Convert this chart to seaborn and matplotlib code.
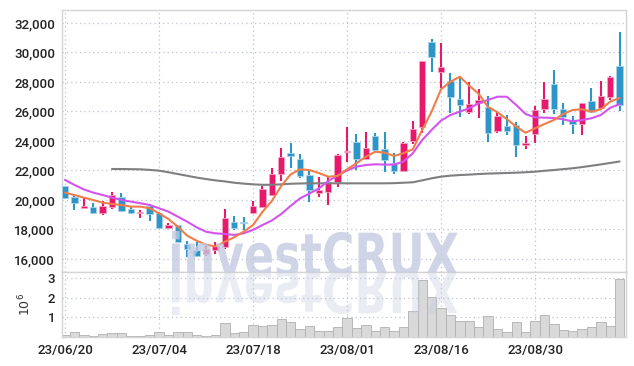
import numpy as np
import pandas as pd
import seaborn as sns
import matplotlib.pyplot as plt
from matplotlib.textpath import TextPath
from matplotlib.patches import PathPatch
from matplotlib.font_manager import FontProperties
from matplotlib.transforms import Affine2D

# daily prices (KRW)
opens = [20950, 20200, 19480, 19520, 19100, 19500, 20180, 19390, 19100, 19600,
         19140, 18120, 18280, 17000, 16610, 16320, 16620, 16790, 18490, 18530,
         19100, 19500, 20340, 21740, 23190, 22780, 21720, 20500, 20560, 21200,
         23250, 23930, 22800, 24340, 23490, 22530, 21990, 24020, 24970, 30690,
         28700, 28070, 26830, 25990, 26600, 26280, 24680, 25020, 25090, 23750,
         24470, 26170, 27860, 26170, 25360, 25130, 26710, 26260, 27000, 29080]
highs = [20980, 20350, 20130, 19780, 19950, 20520, 20450, 19560, 19300, 19700,
         19200, 18450, 18320, 17220, 17150, 17000, 17150, 19390, 18940, 18830,
         19930, 20970, 22190, 23500, 23880, 23120, 22030, 21580, 21580, 23100,
         24970, 24500, 24590, 24520, 24590, 23170, 23900, 25380, 29420, 30920,
         30620, 28590, 28360, 27980, 27500, 27050, 26050, 25760, 25310, 24360,
         26370, 27980, 28810, 26560, 25700, 26600, 27570, 28090, 28400, 31370]
lows = [20100, 19320, 19450, 19080, 18960, 19420, 19250, 19080, 18760, 18570,
        18100, 18010, 17150, 16160, 16160, 16220, 16360, 16700, 17970, 17970,
        19050, 19450, 20300, 21310, 22190, 21470, 19840, 20220, 19660, 20900,
        22600, 22050, 22750, 23270, 21920, 21770, 21990, 23800, 24550, 28660,
        27570, 25920, 25600, 25830, 25540, 23910, 24560, 24400, 22890, 23440,
        23840, 25880, 25830, 25080, 24450, 24400, 25880, 26150, 26780, 26050]
closes = [20150, 19820, 19600, 19100, 19600, 20340, 19270, 19100, 19210, 19030,
          18120, 18300, 17170, 16700, 16220, 16680, 16880, 18760, 18120, 18420,
          19600, 20720, 21740, 22890, 23000, 21650, 20700, 20680, 21240, 23050,
          23340, 22800, 23550, 23390, 22710, 21990, 23840, 24810, 29420, 29720,
          29000, 27000, 26460, 26490, 26750, 24560, 25700, 24680, 23730, 23880,
          26100, 26850, 26170, 25650, 25170, 26560, 25990, 27050, 28320, 26440]

# moving averages
ma5 = [20500, 20340, 20160, 20000, 19820, 19730, 19660, 19550, 19550, 19440,
       19100, 18710, 18190, 17580, 17240, 16970, 16850, 17170, 17470, 17850,
       18300, 19190, 19930, 20950, 21730, 22080, 22030, 21830, 21580, 21630,
       22080, 22490, 22930, 23270, 23210, 22980, 23170, 23440, 24750, 25990,
       27500, 28020, 28360, 27750, 27200, 26310, 25950, 25480, 24970, 24560,
       24860, 25150, 25420, 25830, 26100, 26150, 25990, 26150, 26670, 26920]
ma20 = [21360, 21020, 20720, 20500, 20340, 20160, 20000, 19890, 19780, 19660,
        19440, 19210, 18870, 18530, 18150, 17850, 17740, 17700, 17630, 17740,
        17970, 18300, 18610, 19050, 19600, 20110, 20440, 20780, 21290, 21660,
        22000, 22260, 22370, 22420, 22400, 22400, 22600, 23170, 24070, 24750,
        25380, 25760, 25990, 26220, 26550, 26780, 27000, 27000, 26440, 25830,
        25600, 25580, 25560, 25470, 25330, 25420, 25540, 25760, 26250, 26500]
ma60 = [np.nan, np.nan, np.nan, np.nan, np.nan, 22100, 22100, 22090, 22080, 22040,
        21990, 21880, 21760, 21640, 21520, 21420, 21330, 21260, 21170, 21110,
        21060, 21030, 21030, 21060, 21100, 21120, 21130, 21130, 21130, 21130,
        21130, 21130, 21130, 21130, 21130, 21140, 21170, 21200, 21330, 21470,
        21580, 21650, 21690, 21720, 21760, 21790, 21810, 21830, 21850, 21880,
        21920, 21980, 22030, 22090, 22150, 22230, 22320, 22410, 22510, 22610]

# volume, millions of shares
volume_m = [0.10, 0.23, 0.08, 0.07, 0.15, 0.20, 0.20, 0.04, 0.04, 0.08,
            0.23, 0.10, 0.23, 0.23, 0.10, 0.05, 0.10, 0.73, 0.20, 0.26,
            0.63, 0.55, 0.60, 0.93, 0.75, 0.42, 0.56, 0.33, 0.30, 0.52,
            0.98, 0.47, 0.63, 0.30, 0.52, 0.30, 0.52, 1.33, 2.90, 2.05,
            1.45, 1.10, 0.80, 0.80, 0.50, 1.05, 0.42, 0.26, 0.75, 0.26,
            0.83, 1.12, 0.65, 0.35, 0.30, 0.42, 0.52, 0.78, 0.58, 2.95]

dates = pd.bdate_range('2023-06-20', periods=len(closes), freq='C',
                       holidays=['2023-08-15'])

df = pd.DataFrame({'idx': np.arange(len(closes)), 'open': opens, 'high': highs,
                   'low': lows, 'close': closes, 'ma5': ma5, 'ma20': ma20,
                   'ma60': ma60, 'vol': volume_m})

UP, DOWN = '#e8196a', '#2e95c8'

sns.set_theme(style='white')
plt.rcParams['font.family'] = ['Roboto', 'DejaVu Sans']

fig = plt.figure(figsize=(6.34, 3.66), dpi=100)
ax = fig.add_axes([62/634, 1 - 272/366, 564/634, 262/366])
axv = fig.add_axes([62/634, 1 - 337/366, 564/634, 65/366])

# volume
sns.barplot(data=df, x='idx', y='vol', ax=axv, color='#d9d9d9', width=1,
            edgecolor='#b0b0b0', linewidth=0.6, saturation=1, zorder=2)

# candles
up = df['close'] >= df['open']
colors = np.where(up, UP, DOWN)
edges = np.where(up, '#f3a6c4', '#a9d3ea')
ax.vlines(df['idx'], df['low'], df['high'], colors=colors, lw=1.5, zorder=3)
body = (df['close'] - df['open']).abs().clip(lower=60)
ax.bar(df['idx'], body, bottom=df[['open', 'close']].min(axis=1), width=0.68,
       color=colors, edgecolor=edges, linewidth=0.6, zorder=3)

sns.lineplot(data=df, x='idx', y='ma60', ax=ax, color='#7f7f7f', lw=1.5, zorder=4)
sns.lineplot(data=df, x='idx', y='ma20', ax=ax, color='#d453ee', lw=1.5, zorder=4)
sns.lineplot(data=df, x='idx', y='ma5', ax=ax, color='#f07d4a', lw=1.5, zorder=4)

ticks = list(range(0, len(dates), 10))
for a in (ax, axv):
    a.set_xlim(-0.32, len(dates) - 0.32)
    a.set_xticks(ticks)
    a.grid(True, ls=(0, (1, 2.5)), color='#bcc2d4', lw=0.9)
    a.set_axisbelow(True)
    for s in a.spines.values():
        s.set_color('#d4d4d4')
        s.set_linewidth(1)
    a.tick_params(length=0, labelsize=9.5, colors='#222222', pad=5)
    a.set_xlabel('')
    a.set_ylabel('')

ax.set_xticklabels([])
axv.set_xticklabels(dates[ticks].strftime('%y/%m/%d'), fontweight='medium')
ax.set_ylim(15118, 32880)
ax.set_yticks(range(16000, 32001, 2000))
ax.set_yticklabels([f'{v:,}' for v in range(16000, 32001, 2000)],
                   fontweight='medium')
axv.set_ylim(0, 3.3)
axv.set_yticks([1, 2, 3])
axv.set_yticklabels(['1', '2', '3'], fontweight='medium')
axv.set_ylabel(r'$10^6$', fontsize=9, labelpad=10, color='#333333')

# watermark and its reflection
fp = FontProperties(family='DejaVu Sans', weight='bold')
tp = TextPath((0, 0), 'investCRUX', size=1, prop=fp)
ext = tp.get_extents()
sx = 286 / ext.width / 100
sy = 46 / ext.height / 100
tr = Affine2D().translate(-ext.x0, 0).scale(sx, sy).translate(1.72, 0.90)
wm = PathPatch(tp, transform=tr + fig.dpi_scale_trans, facecolor='#c3cbe0',
               edgecolor='none', alpha=0.8, zorder=5)
wm.set_clip_box(ax.bbox)
fig.add_artist(wm)
tr2 = Affine2D().translate(-ext.x0, 0).scale(sx, -sy).translate(1.72, 0.96)
wm2 = PathPatch(tp, transform=tr2 + fig.dpi_scale_trans, facecolor='#c3cbe0',
                edgecolor='none', alpha=0.35, zorder=5)
wm2.set_clip_box(axv.bbox)
fig.add_artist(wm2)

fig.savefig('out.png', dpi=100)
